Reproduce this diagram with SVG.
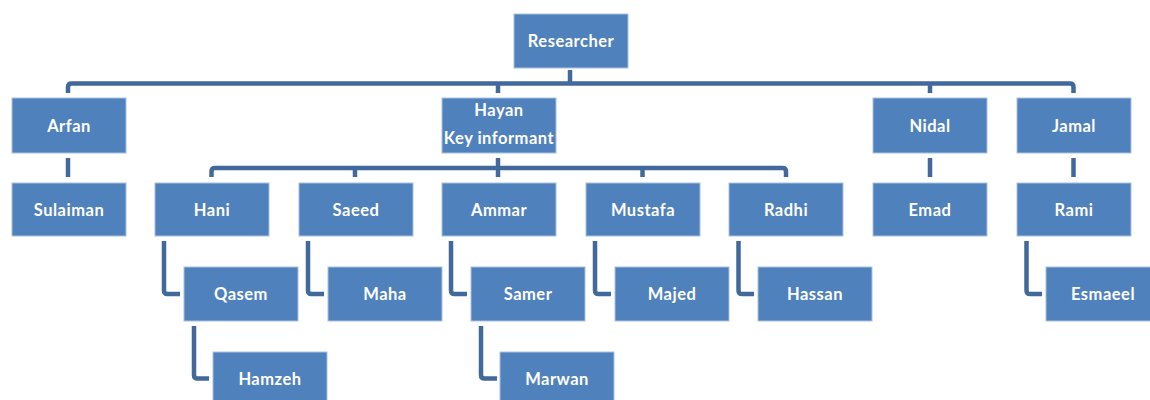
<svg xmlns="http://www.w3.org/2000/svg" width="1150" height="400" viewBox="0 0 1150 400">
<style>
.box{fill:#4F81BD;stroke:#A9C2E0;stroke-width:1}
.t{fill:#FFFFFF;font-family:Lato,"Open Sans","Liberation Sans",sans-serif;font-weight:bold;font-size:16.5px;letter-spacing:0.5px;text-anchor:middle;dominant-baseline:central}
.c{fill:none;stroke:#41699C;stroke-width:4.5;stroke-linejoin:round}
</style>
<rect width="1150" height="400" fill="#FFFFFF"/>
<g id="connectors">
<path class="c" d="M570,70 V83.5"/>
<path class="c" d="M68,93 V87 Q68,83.5 71.5,83.5 H1070 Q1073.5,83.5 1073.5,87 V93"/>
<path class="c" d="M498,83.5 V93"/>
<path class="c" d="M930,83.5 V93"/>
<path class="c" d="M68,158 V177"/>
<path class="c" d="M930,158 V177"/>
<path class="c" d="M1073.5,158 V177"/>
<path class="c" d="M498,158 V177"/>
<path class="c" d="M211.5,177 V171.5 Q211.5,168 215,168 H782.5 Q786,168 786,171.5 V177"/>
<path class="c" d="M355,168 V177"/>
<path class="c" d="M642.5,168 V177"/>
<path class="c" d="M164,241 V290.5 Q164,294 167.5,294 H180"/>
<path class="c" d="M308,241 V290.5 Q308,294 311.5,294 H324"/>
<path class="c" d="M451,241 V290.5 Q451,294 454.5,294 H467"/>
<path class="c" d="M595,241 V290.5 Q595,294 598.5,294 H611"/>
<path class="c" d="M738.5,241 V290.5 Q738.5,294 742,294 H754"/>
<path class="c" d="M1026.5,241 V290.5 Q1026.5,294 1030,294 H1042"/>
<path class="c" d="M194,326 V375 Q194,378.5 197.5,378.5 H209"/>
<path class="c" d="M481,326 V375 Q481,378.5 484.5,378.5 H497"/>
</g>
<g id="researcher"><rect class="box" x="514" y="14" width="114" height="54"/><text class="t" x="571" y="41">Researcher</text></g>
<g id="arfan"><rect class="box" x="12" y="98" width="114" height="55"/><text class="t" x="69" y="125.5">Arfan</text></g>
<g id="hayan"><rect class="box" x="442" y="98" width="114" height="55"/><text class="t" x="499" y="110">Hayan</text><text class="t" x="499" y="137.5">Key informant</text></g>
<g id="nidal"><rect class="box" x="873" y="98" width="114" height="55"/><text class="t" x="930" y="125.5">Nidal</text></g>
<g id="jamal"><rect class="box" x="1017" y="98" width="114" height="55"/><text class="t" x="1074" y="125.5">Jamal</text></g>
<g id="sulaiman"><rect class="box" x="12" y="183" width="114" height="53"/><text class="t" x="69" y="209.5">Sulaiman</text></g>
<g id="hani"><rect class="box" x="155" y="183" width="114" height="53"/><text class="t" x="212" y="209.5">Hani</text></g>
<g id="saeed"><rect class="box" x="299" y="183" width="114" height="53"/><text class="t" x="356" y="209.5">Saeed</text></g>
<g id="ammar"><rect class="box" x="442" y="183" width="114" height="53"/><text class="t" x="499" y="209.5">Ammar</text></g>
<g id="mustafa"><rect class="box" x="586" y="183" width="114" height="53"/><text class="t" x="643" y="209.5">Mustafa</text></g>
<g id="radhi"><rect class="box" x="729" y="183" width="114" height="53"/><text class="t" x="786" y="209.5">Radhi</text></g>
<g id="emad"><rect class="box" x="873" y="183" width="114" height="53"/><text class="t" x="930" y="209.5">Emad</text></g>
<g id="rami"><rect class="box" x="1017" y="183" width="114" height="53"/><text class="t" x="1074" y="209.5">Rami</text></g>
<g id="qasem"><rect class="box" x="184" y="267" width="114" height="54"/><text class="t" x="241" y="294">Qasem</text></g>
<g id="maha"><rect class="box" x="328" y="267" width="114" height="54"/><text class="t" x="385" y="294">Maha</text></g>
<g id="samer"><rect class="box" x="471" y="267" width="114" height="54"/><text class="t" x="528" y="294">Samer</text></g>
<g id="majed"><rect class="box" x="615" y="267" width="114" height="54"/><text class="t" x="672" y="294">Majed</text></g>
<g id="hassan"><rect class="box" x="758" y="267" width="114" height="54"/><text class="t" x="815" y="294">Hassan</text></g>
<g id="esmaeel"><rect class="box" x="1046" y="267" width="114" height="54"/><text class="t" x="1103" y="294">Esmaeel</text></g>
<g id="hamzeh"><rect class="box" x="213" y="352" width="114" height="54"/><text class="t" x="270" y="379">Hamzeh</text></g>
<g id="marwan"><rect class="box" x="500" y="352" width="114" height="54"/><text class="t" x="557" y="379">Marwan</text></g>
</svg>
